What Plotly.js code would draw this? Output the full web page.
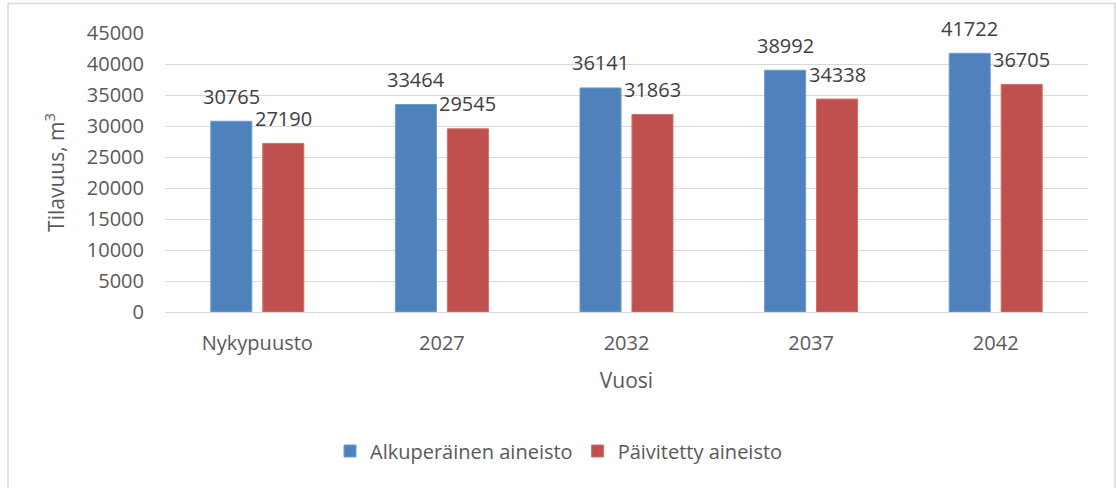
<!DOCTYPE html>
<html>
<head>
<meta charset="utf-8">
<script src="https://cdn.plot.ly/plotly-3.0.1.min.js"></script>
<style>
  html, body { margin: 0; padding: 0; background: #ffffff; }
  #chart { width: 1116px; height: 488px; }
</style>
</head>
<body>
<div id="chart"></div>
<script>
const categories = ["Nykypuusto", "2027", "2032", "2037", "2042"];
const seriesNames = ["Alkuperäinen aineisto", "Päivitetty aineisto"];
const alkuperainen = [30765, 33464, 36141, 38992, 41722];
const paivitetty = [27190, 29545, 31863, 34338, 36705];
const yTicks = [0, 5000, 10000, 15000, 20000, 25000, 30000, 35000, 40000, 45000];

const FONT = "Open Sans, Lato, sans-serif";
const TXT = "#595959";
const FS = 20;

const traces = [
  {
    type: "bar", name: seriesNames[0], x: categories, y: alkuperainen,
    marker: { color: "#4F81BD", line: { color: "#6f9bd0", width: 1 } },
    hoverinfo: "x+y"
  },
  {
    type: "bar", name: seriesNames[1], x: categories, y: paivitetty,
    marker: { color: "#C0504D", line: { color: "#d07070", width: 1 } },
    hoverinfo: "x+y"
  }
];

const annotations = [];
const seriesVals = [alkuperainen, paivitetty];
const shifts = [-26, 26];
seriesVals.forEach((vals, si) => {
  vals.forEach((v, i) => {
    annotations.push({
      x: i, y: v, xref: "x", yref: "y",
      text: String(v), showarrow: false,
      xshift: shifts[si], yshift: 25, yanchor: "middle",
      font: { family: FONT, size: FS, color: "#404040" }
    });
  });
});

const L = 165, R = 28, T = 32.5, B = 175.5;
const pw = 1116 - L - R, ph = 488 - T - B;

const layout = {
  width: 1116, height: 488,
  margin: { l: L, r: R, t: T, b: B, pad: 0 },
  paper_bgcolor: "#ffffff", plot_bgcolor: "#ffffff",
  barmode: "group", bargap: 0.437, bargroupgap: 0.21,
  showlegend: true,
  legend: {
    orientation: "h", x: (559 - L) / pw, xanchor: "center", y: (488 - B - 452) / ph, yanchor: "middle",
    font: { family: FONT, size: FS, color: TXT },
    itemwidth: 30, tracegroupgap: 0
  },
  xaxis: {
    type: "category", range: [-0.5, 4.5],
    showgrid: false, showline: false, zeroline: false, ticks: "",
    tickfont: { family: FONT, size: FS, color: TXT },
    ticklabelstandoff: 17,
    title: { text: "Vuosi", font: { family: FONT, size: 21, color: TXT }, standoff: 18 }
  },
  yaxis: {
    range: [0, 45000], tickvals: yTicks, ticktext: yTicks.map(String),
    showgrid: true, gridcolor: "#d9d9d9", gridwidth: 1,
    zeroline: true, zerolinecolor: "#d9d9d9", zerolinewidth: 1,
    showline: false, ticks: "",
    tickfont: { family: FONT, size: FS, color: TXT },
    ticklabelstandoff: 20,
    title: { text: "Tilavuus, m<sup>3</sup>", font: { family: FONT, size: 21, color: TXT }, standoff: 16 }
  },
  annotations: annotations,
  shapes: [{
    type: "rect", xref: "paper", yref: "paper", layer: "below",
    x0: (8 - L) / pw, x1: (1115 - L) / pw,
    y0: (488 - B - 492) / ph, y1: (488 - B - 3) / ph,
    line: { color: "#d9d9d9", width: 1.5 }, fillcolor: "rgba(0,0,0,0)"
  }]
};

Plotly.newPlot("chart", traces, layout, { displayModeBar: false, staticPlot: true });
</script>
</body>
</html>
